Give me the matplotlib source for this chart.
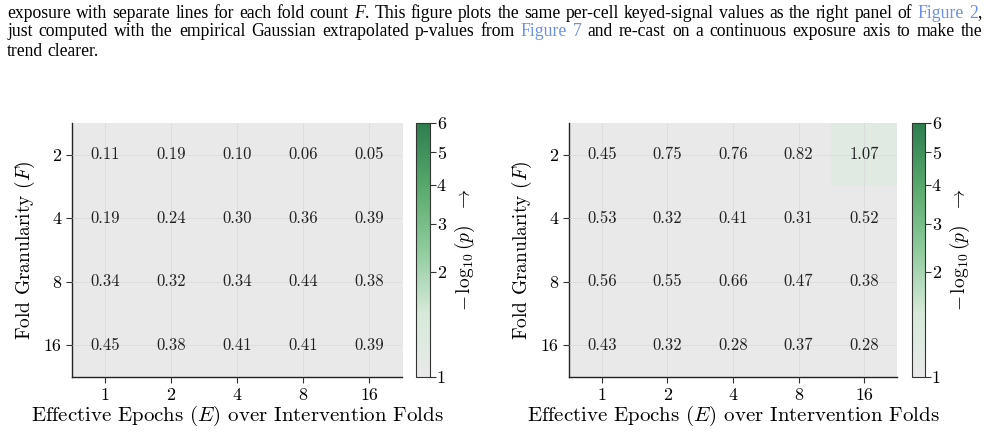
import numpy as np
import matplotlib
matplotlib.use("Agg")
import matplotlib.pyplot as plt
from matplotlib.colors import LinearSegmentedColormap, PowerNorm

plt.rcParams["font.family"] = "serif"
plt.rcParams["font.serif"] = ["cmr10"]
plt.rcParams["mathtext.fontset"] = "cm"
plt.rcParams["axes.formatter.use_mathtext"] = True
plt.rcParams["axes.unicode_minus"] = False

# data: -log10(p) per (fold granularity F, effective epochs E) cell
epochs = ["1", "2", "4", "8", "16"]
folds = ["2", "4", "8", "16"]
left_vals = [
    [0.11, 0.19, 0.10, 0.06, 0.05],
    [0.19, 0.24, 0.30, 0.36, 0.39],
    [0.34, 0.32, 0.34, 0.44, 0.38],
    [0.45, 0.38, 0.41, 0.41, 0.39],
]
right_vals = [
    [0.45, 0.75, 0.76, 0.82, 1.07],
    [0.53, 0.32, 0.41, 0.31, 0.52],
    [0.56, 0.55, 0.66, 0.47, 0.38],
    [0.43, 0.32, 0.28, 0.37, 0.28],
]
cbar_ticks = [1, 2, 3, 4, 5, 6]

caption = [
    [("exposure with separate lines for each fold count", "k", "normal"),
     ("F", "k", "italic"), (". This figure plots the same per-cell keyed-signal values as the right panel of", "k", "normal"),
     ("Figure 2", "#6b8fe6", "normal"), (",", "k", "normal")],
    [("just computed with the empirical Gaussian extrapolated p-values from", "k", "normal"),
     ("Figure 7", "#6b8fe6", "normal"),
     ("and re-cast on a continuous exposure axis to make the", "k", "normal")],
    [("trend clearer.", "k", "normal")],
]

W, H = 988, 438
fig = plt.figure(figsize=(W / 100, H / 100), dpi=100)
fig.patch.set_facecolor("white")

cmap = LinearSegmentedColormap.from_list(
    "gg", ["#e9e9e9", "#d6e9da", "#8fcb9c", "#58a96d", "#2e7d4f"])
norm = PowerNorm(gamma=0.55, vmin=1, vmax=6)


def px_axes(x0, y0, x1, y1):
    return fig.add_axes([x0 / W, 1 - y1 / H, (x1 - x0) / W, (y1 - y0) / H])


def heatmap(vals, ax_box, cb_box):
    ax = px_axes(*ax_box)
    arr = np.array(vals)
    im = ax.imshow(np.clip(arr, 1, None), cmap=cmap, norm=norm, aspect="auto",
                   interpolation="nearest", zorder=1)
    for i in range(arr.shape[0]):
        for j in range(arr.shape[1]):
            ax.text(j, i, f"{arr[i, j]:.2f}", ha="center", va="center",
                    fontsize=12, color="#222222", zorder=3)
    ax.set_xticks(range(len(epochs)))
    ax.set_xticklabels(epochs)
    ax.set_yticks(range(len(folds)))
    ax.set_yticklabels(folds)
    ax.tick_params(axis="both", labelsize=13, length=4, width=0.8, color="#333333")
    ax.grid(True, color="#d8d8d8", linewidth=0.6, alpha=0.8, zorder=2)
    ax.set_axisbelow(False)
    for s in ["top", "right"]:
        ax.spines[s].set_visible(False)
    for s in ["left", "bottom"]:
        ax.spines[s].set_linewidth(1.0)
        ax.spines[s].set_color("#222222")
    ax.set_xlabel(r"Effective Epochs $(E)$ over Intervention Folds", fontsize=15, labelpad=1)
    ax.set_ylabel(r"Fold Granularity $(F)$", fontsize=14, labelpad=5)

    cax = px_axes(*cb_box)
    cb = fig.colorbar(im, cax=cax)
    cb.set_ticks(cbar_ticks)
    cb.set_ticklabels([str(t) for t in cbar_ticks])
    cb.ax.minorticks_off()
    cb.ax.tick_params(labelsize=13, length=4, width=0.8, color="#333333", pad=1)
    cb.outline.set_linewidth(0.8)
    cb.outline.set_edgecolor("#333333")
    cb.set_label(r"$-\,\log_{10}(p)$  $\rightarrow$", fontsize=14, labelpad=5)
    return ax


heatmap(left_vals, (72, 123, 402, 377), (416, 123, 430, 377))
heatmap(right_vals, (569, 123, 897, 377), (912, 123, 925, 377))

# caption text above the figure, justified like the paper
renderer = fig.canvas.get_renderer()
cap_size = 12.7
line_y = [13, 32, 51]
x_left, x_right = 7, 982
for li, segs in enumerate(caption):
    tokens = []
    for si, (txt, col, sty) in enumerate(segs):
        words = txt.split(" ")
        for wi, w in enumerate(words):
            sp = True
            if wi == 0 and si > 0 and txt[0] in ".,":
                sp = False
            if si == 0 and wi == 0:
                sp = False
            tokens.append((w, col, sty, sp))
    arts = []
    widths = []
    for w, col, sty, sp in tokens:
        t = fig.text(0, 1 - line_y[li] / H, w, fontsize=cap_size, color=col,
                     fontstyle=sty, family="Liberation Serif", va="center", ha="left")
        arts.append(t)
        widths.append(t.get_window_extent(renderer).width)
    n_gaps = sum(1 for tk in tokens if tk[3])
    if li < len(caption) - 1 and n_gaps:
        gap = (x_right - x_left - sum(widths)) / n_gaps
    else:
        gap = cap_size * 100 / 72 * 0.25
    x = x_left
    for t, wdt, tk in zip(arts, widths, tokens):
        if tk[3]:
            x += gap
        t.set_x(x / W)
        x += wdt

fig.savefig("out.png", dpi=100, facecolor="white")
